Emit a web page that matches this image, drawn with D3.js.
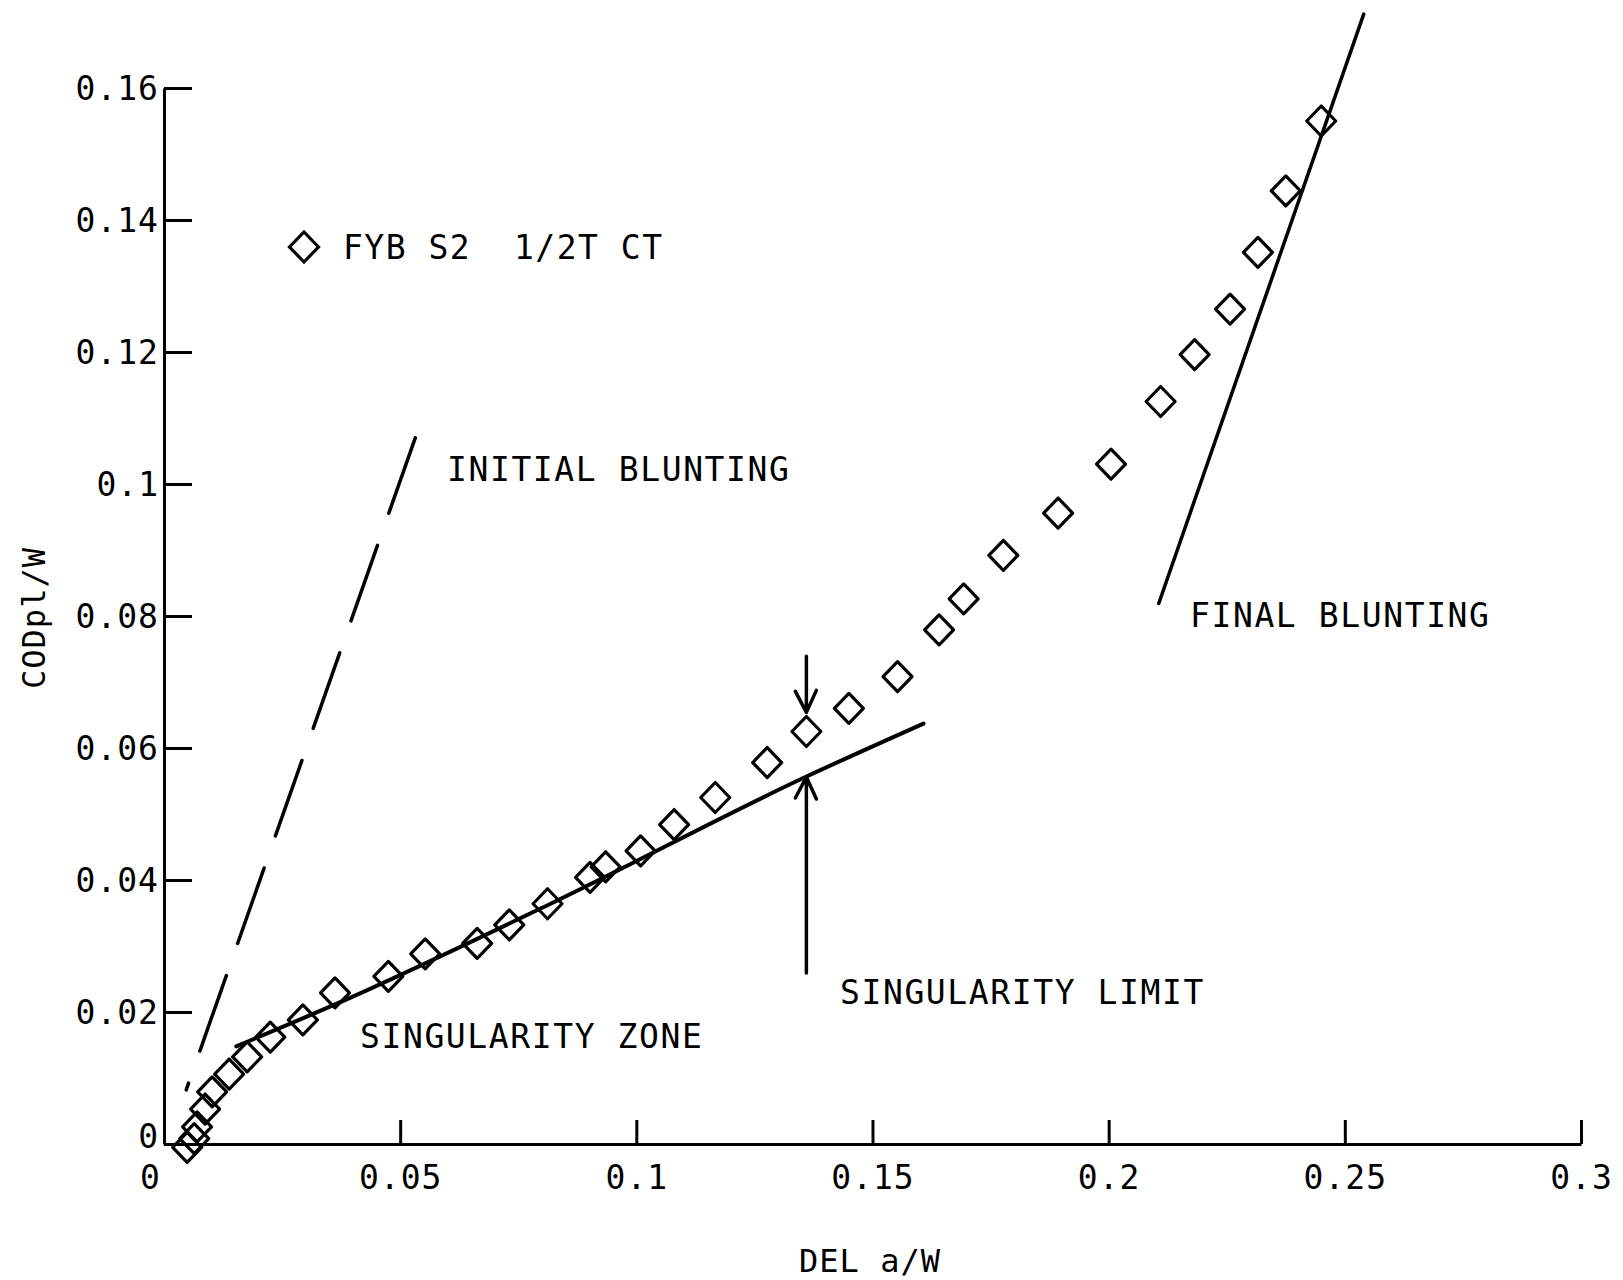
<!DOCTYPE html>
<html lang="en">
<head>
    <meta charset="UTF-8">
    <title>CODpl/W vs DEL a/W</title>
    <style>
        body { margin: 0; background: #fff; }
        svg text {
            font-family: "DejaVu Sans Mono", monospace;
            fill: #000;
            white-space: pre;
        }
    </style>
</head>
<body>
    <div id="chart"></div>

    <script src="https://d3js.org/d3.v7.min.js"></script>
    <script>
        // Data
        const delA = [0.0049, 0.0064, 0.0070, 0.0087, 0.0102, 0.0138, 0.0176, 0.0225, 0.0294, 0.0362,
                      0.0475, 0.0553, 0.0663, 0.0731, 0.0812, 0.0902, 0.0935, 0.1009, 0.1080, 0.1167,
                      0.1277, 0.1360, 0.1450, 0.1553, 0.1641, 0.1693, 0.1777, 0.1893, 0.2005, 0.2110,
                      0.2182, 0.2257, 0.2316, 0.2375, 0.2450];
        const codPl = [-0.0005, 0.0008, 0.0026, 0.0053, 0.0079, 0.0106, 0.0132, 0.0162, 0.0188, 0.0229,
                       0.0254, 0.0288, 0.0304, 0.0332, 0.0364, 0.0404, 0.0420, 0.0444, 0.0484, 0.0525,
                       0.0578, 0.0625, 0.0660, 0.0708, 0.0779, 0.0826, 0.0892, 0.0956, 0.1030, 0.1125,
                       0.1196, 0.1265, 0.1351, 0.1444, 0.1550];

        // fitted singularity zone curve
        const singX = [0.0153, 0.0367, 0.0824, 0.1358, 0.1608];
        const singY = [0.0148, 0.0213, 0.0366, 0.0556, 0.0637];

        // blunting lines (x, y ends)
        const initialBlunt = [[0.0532, 0.1070], [0.0047, 0.0082]];
        const finalBlunt = [[0.2540, 0.1712], [0.2106, 0.0819]];

        // arrows marking the singularity limit
        const arrowDown = [[0.136, 0.0739], [0.136, 0.0654]];
        const arrowUp = [[0.136, 0.0259], [0.136, 0.0556]];

        const xTicks = [0, 0.05, 0.1, 0.15, 0.2, 0.25, 0.3];
        const xTickLabels = ['0', '0.05', '0.1', '0.15', '0.2', '0.25', '0.3'];
        const yTicks = [0, 0.02, 0.04, 0.06, 0.08, 0.1, 0.12, 0.14, 0.16];
        const yTickLabels = ['0', '0.02', '0.04', '0.06', '0.08', '0.1', '0.12', '0.14', '0.16'];

        const annotations = [
            {text: 'INITIAL BLUNTING', x: 447, y: 469},
            {text: 'SINGULARITY ZONE', x: 360, y: 1036},
            {text: 'SINGULARITY LIMIT', x: 840, y: 992},
            {text: 'FINAL BLUNTING', x: 1190, y: 615}
        ];

        const width = 1623, height = 1280;
        const svg = d3.select('#chart').append('svg')
            .attr('width', width)
            .attr('height', height);

        const x = d3.scaleLinear().domain([0, 0.3]).range([164, 1581]);
        const y = d3.scaleLinear().domain([0, 0.16]).range([1144, 88]);

        // Axes
        const xAxis = svg.append('g')
            .attr('transform', 'translate(0,' + y(0) + ')')
            .call(d3.axisBottom(x).tickValues(xTicks)
                .tickFormat((d, i) => xTickLabels[i])
                .tickSizeInner(-24).tickSizeOuter(0));
        xAxis.selectAll('text')
            .attr('y', 22).attr('dy', '0.71em')
            .style('font-size', '33px')
            .style('letter-spacing', '1px');
        xAxis.selectAll('.tick').filter(d => d === 0).select('text').attr('x', -14);

        const yAxis = svg.append('g')
            .attr('transform', 'translate(' + x(0) + ',0)')
            .call(d3.axisLeft(y).tickValues(yTicks)
                .tickFormat((d, i) => yTickLabels[i])
                .tickSizeInner(-28).tickSizeOuter(0).tickPadding(5));
        yAxis.selectAll('text')
            .style('font-size', '33px')
            .style('letter-spacing', '1px')
            .attr('dy', '0.36em');
        yAxis.selectAll('.tick').filter(d => d === 0).select('text').attr('y', -8);

        svg.selectAll('.domain, .tick line')
            .attr('stroke', '#000')
            .attr('stroke-width', 3);

        // Axis titles
        svg.append('text')
            .attr('x', 870).attr('y', 1272)
            .attr('text-anchor', 'middle')
            .style('font-size', '32px')
            .style('letter-spacing', '1px')
            .text('DEL a/W');

        svg.append('text')
            .attr('transform', 'translate(45,618) rotate(-90)')
            .attr('text-anchor', 'middle')
            .style('font-size', '32px')
            .style('letter-spacing', '1px')
            .text('CODpl/W');

        const line = d3.line().x(d => x(d[0])).y(d => y(d[1]));

        // Initial blunting (dashed)
        svg.append('path')
            .attr('d', line(initialBlunt))
            .attr('fill', 'none')
            .attr('stroke', '#000')
            .attr('stroke-width', 3.5)
            .attr('stroke-linecap', 'round')
            .attr('stroke-dasharray', '80,34');

        // Final blunting
        svg.append('path')
            .attr('d', line(finalBlunt))
            .attr('fill', 'none')
            .attr('stroke', '#000')
            .attr('stroke-width', 3.5)
            .attr('stroke-linecap', 'round');

        // Singularity zone fit
        svg.append('path')
            .attr('d', d3.line().x(d => x(d)).y((d, i) => y(singY[i])).curve(d3.curveMonotoneX)(singX))
            .attr('fill', 'none')
            .attr('stroke', '#000')
            .attr('stroke-width', 4)
            .attr('stroke-linecap', 'round');

        // Arrows
        [arrowDown, arrowUp].forEach(a => {
            const x0 = x(a[0][0]), y0 = y(a[0][1]), y1 = y(a[1][1]);
            const dir = y1 > y0 ? 1 : -1;
            svg.append('path')
                .attr('d', 'M' + x0 + ',' + y0 + 'L' + x0 + ',' + y1 +
                    'M' + (x0 - 11) + ',' + (y1 - dir * 21) + 'L' + x0 + ',' + y1 +
                    'L' + (x0 + 10) + ',' + (y1 - dir * 22))
                .attr('fill', 'none')
                .attr('stroke', '#000')
                .attr('stroke-width', 3.5)
                .attr('stroke-linecap', 'round')
                .attr('stroke-linejoin', 'round');
        });

        // Diamonds
        const diamond = 'M0,-15L14.5,0L0,15L-14.5,0Z';
        svg.selectAll('.pt')
            .data(delA)
            .enter()
            .append('path')
            .attr('class', 'pt')
            .attr('d', diamond)
            .attr('transform', (d, i) => 'translate(' + x(d) + ',' + y(codPl[i]) + ')')
            .attr('fill', 'none')
            .attr('stroke', '#000')
            .attr('stroke-width', 3.2)
            .attr('stroke-linejoin', 'round');

        // Legend
        svg.append('path')
            .attr('d', diamond)
            .attr('transform', 'translate(304,247)')
            .attr('fill', 'none')
            .attr('stroke', '#000')
            .attr('stroke-width', 3.2);
        svg.append('text')
            .attr('x', 343).attr('y', 247).attr('dy', '0.36em')
            .style('font-size', '33px')
            .style('letter-spacing', '1.5px')
            .text('FYB S2  1/2T CT');

        // Annotations
        svg.selectAll('.note')
            .data(annotations)
            .enter()
            .append('text')
            .attr('class', 'note')
            .attr('x', d => d.x).attr('y', d => d.y).attr('dy', '0.36em')
            .style('font-size', '33px')
            .style('letter-spacing', '1.6px')
            .text(d => d.text);
    </script>
</body>
</html>
